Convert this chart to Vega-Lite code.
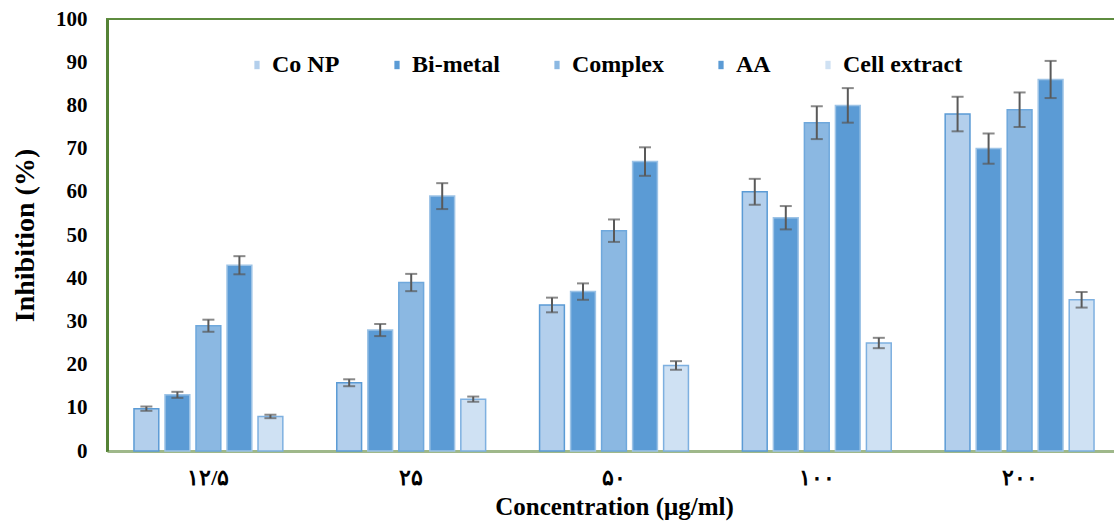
{
  "$schema": "https://vega.github.io/schema/vega-lite/v6.json",
  "width": 1014,
  "height": 432,
  "autosize": {"type": "none"},
  "padding": {"left": 107, "top": 19, "right": 0, "bottom": 73},
  "background": "white",
  "config": {
    "view": {"stroke": "#5e8c3f", "strokeWidth": 2},
    "font": "Liberation Serif"
  },
  "data": {
    "values": [
      {"conc": "۱۲/۵", "series": "Co NP", "value": 9.8, "lo": 9.3, "hi": 10.3},
      {"conc": "۱۲/۵", "series": "Bi-metal", "value": 13, "lo": 12.3, "hi": 13.7},
      {"conc": "۱۲/۵", "series": "Complex", "value": 29, "lo": 27.6, "hi": 30.4},
      {"conc": "۱۲/۵", "series": "AA", "value": 43, "lo": 40.9, "hi": 45.1},
      {"conc": "۱۲/۵", "series": "Cell extract", "value": 8, "lo": 7.6, "hi": 8.4},
      {"conc": "۲۵", "series": "Co NP", "value": 15.8, "lo": 15, "hi": 16.6},
      {"conc": "۲۵", "series": "Bi-metal", "value": 28, "lo": 26.6, "hi": 29.4},
      {"conc": "۲۵", "series": "Complex", "value": 39, "lo": 37, "hi": 41},
      {"conc": "۲۵", "series": "AA", "value": 59, "lo": 56, "hi": 62},
      {"conc": "۲۵", "series": "Cell extract", "value": 12, "lo": 11.4, "hi": 12.6},
      {"conc": "۵۰", "series": "Co NP", "value": 33.8, "lo": 32.1, "hi": 35.5},
      {"conc": "۵۰", "series": "Bi-metal", "value": 36.9, "lo": 35, "hi": 38.8},
      {"conc": "۵۰", "series": "Complex", "value": 51, "lo": 48.4, "hi": 53.6},
      {"conc": "۵۰", "series": "AA", "value": 67, "lo": 63.7, "hi": 70.3},
      {"conc": "۵۰", "series": "Cell extract", "value": 19.8, "lo": 18.8, "hi": 20.8},
      {"conc": "۱۰۰", "series": "Co NP", "value": 60, "lo": 57, "hi": 63},
      {"conc": "۱۰۰", "series": "Bi-metal", "value": 54, "lo": 51.3, "hi": 56.7},
      {"conc": "۱۰۰", "series": "Complex", "value": 76, "lo": 72.2, "hi": 79.8},
      {"conc": "۱۰۰", "series": "AA", "value": 80, "lo": 76, "hi": 84},
      {"conc": "۱۰۰", "series": "Cell extract", "value": 25, "lo": 23.8, "hi": 26.2},
      {"conc": "۲۰۰", "series": "Co NP", "value": 78, "lo": 74, "hi": 82},
      {"conc": "۲۰۰", "series": "Bi-metal", "value": 70, "lo": 66.5, "hi": 73.5},
      {"conc": "۲۰۰", "series": "Complex", "value": 79, "lo": 75, "hi": 83},
      {"conc": "۲۰۰", "series": "AA", "value": 86, "lo": 81.7, "hi": 90.3},
      {"conc": "۲۰۰", "series": "Cell extract", "value": 35, "lo": 33.2, "hi": 36.8}
    ]
  },
  "encoding": {
    "x": {
      "field": "conc",
      "type": "nominal",
      "sort": ["۱۲/۵", "۲۵", "۵۰", "۱۰۰", "۲۰۰"],
      "scale": {"paddingInner": 0.266, "paddingOuter": 0.133},
      "axis": {
        "title": "Concentration (μg/ml)",
        "titleFont": "Liberation Serif",
        "titleFontSize": 25,
        "titleFontWeight": "bold",
        "titleColor": "black",
        "titlePadding": 6,
        "titleX": 507,
        "labelAngle": 0,
        "labelFont": "Liberation Serif",
        "labelFontSize": 22,
        "labelFontWeight": "bold",
        "labelColor": "black",
        "labelPadding": 16,
        "ticks": false,
        "domainColor": "#9fb88a",
        "domainWidth": 3
      }
    },
    "xOffset": {
      "field": "series",
      "type": "nominal",
      "sort": ["Co NP", "Bi-metal", "Complex", "AA", "Cell extract"],
      "scale": {"paddingInner": 0.2, "paddingOuter": 0}
    }
  },
  "layer": [
    {
      "mark": {"type": "bar", "strokeWidth": 1.5},
      "encoding": {
        "y": {
          "field": "value",
          "type": "quantitative",
          "scale": {"domain": [0, 100]},
          "axis": {
            "title": "Inhibition (%)",
            "titleFont": "Liberation Serif",
            "titleFontSize": 28,
            "titleFontWeight": "bold",
            "titleColor": "black",
            "titlePadding": 16,
            "values": [0, 10, 20, 30, 40, 50, 60, 70, 80, 90, 100],
            "labelFont": "Liberation Serif",
            "labelFontSize": 21,
            "labelFontWeight": "bold",
            "labelColor": "black",
            "labelPadding": 20,
            "ticks": false,
            "grid": false,
            "domainColor": "#548235",
            "domainWidth": 3
          }
        },
        "color": {
          "field": "series",
          "type": "nominal",
          "sort": ["Co NP", "Bi-metal", "Complex", "AA", "Cell extract"],
          "scale": {
            "domain": ["Co NP", "Bi-metal", "Complex", "AA", "Cell extract"],
            "range": ["#b3cfec", "#5b9bd5", "#8bb8e2", "#5b9bd5", "#cfe1f3"]
          },
          "legend": {
            "title": null,
            "orient": "none",
            "legendX": 138,
            "legendY": 34,
            "direction": "horizontal",
            "columns": 5,
            "columnPadding": 45,
            "symbolType": "M-0.5,-0.8H0.5V0.8H-0.5Z",
            "symbolSize": 110,
            "symbolStrokeWidth": 0,
            "labelFont": "Liberation Serif",
            "labelFontSize": 24,
            "labelFontWeight": "bold",
            "labelColor": "black",
            "labelOffset": 3
          }
        },
        "stroke": {
          "field": "series",
          "type": "nominal",
          "scale": {
            "domain": ["Co NP", "Bi-metal", "Complex", "AA", "Cell extract"],
            "range": ["#5b9bd5", "#9dc3e6", "#6fa8dc", "#9dc3e6", "#7eb0e0"]
          },
          "legend": null
        }
      }
    },
    {
      "mark": {"type": "rule", "color": "#595959", "strokeWidth": 2},
      "encoding": {
        "y": {"field": "lo", "type": "quantitative"},
        "y2": {"field": "hi"}
      }
    },
    {
      "mark": {"type": "tick", "color": "#595959", "thickness": 2, "size": 12},
      "encoding": {
        "y": {"field": "lo", "type": "quantitative"}
      }
    },
    {
      "mark": {"type": "tick", "color": "#595959", "thickness": 2, "size": 12},
      "encoding": {
        "y": {"field": "hi", "type": "quantitative"}
      }
    }
  ]
}
